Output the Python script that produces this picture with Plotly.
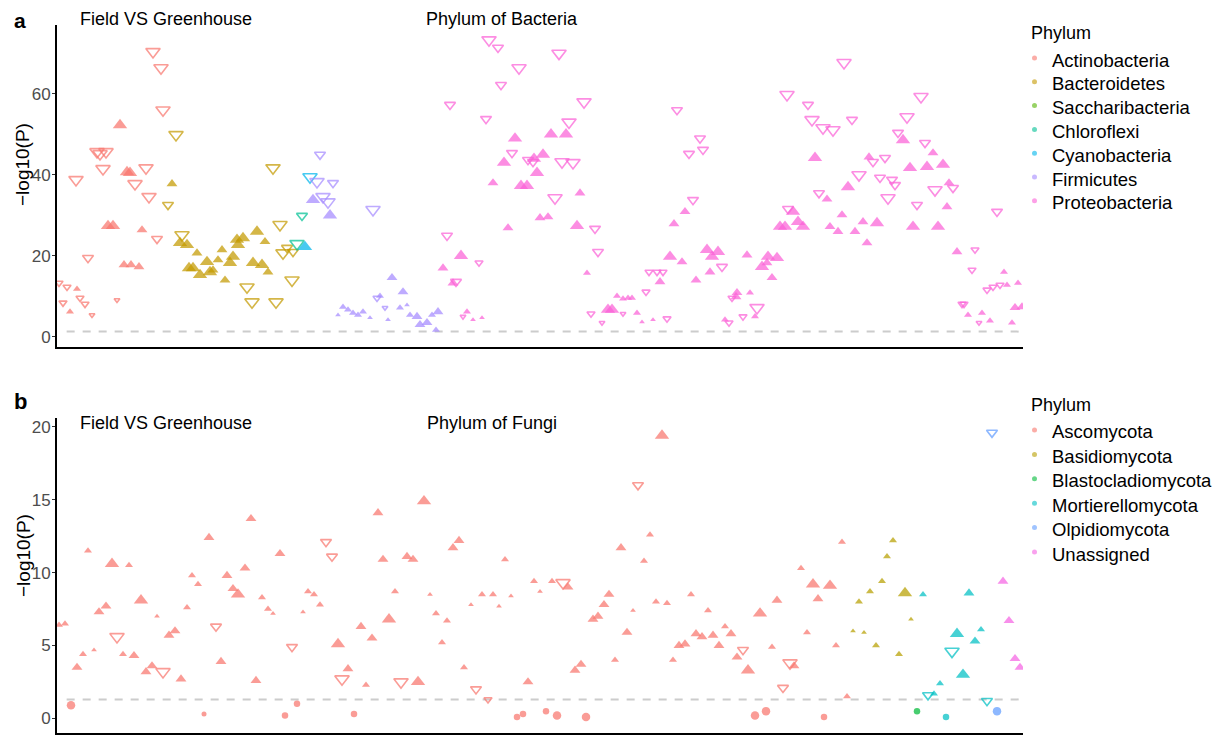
import plotly.graph_objects as go

# ---------------- Panel a : Bacteria (otu_pos, -log10P, abundance class) ----------------
a_phyla = ["Actinobacteria", "Bacteroidetes", "Saccharibacteria", "Chloroflexi",
           "Cyanobacteria", "Firmicutes", "Proteobacteria"]
a_colors = ["#F8766D", "#C49A00", "#53B400", "#00C094", "#00B6EB", "#A58AFF", "#FB61D7"]

act_up = [(77,11.8,2),(70,6.2,2),(108,27.4,4),(113,27.4,4),(120,52.3,4),(127,40.7,4),(130,40.5,4),
          (124,17.8,3),(131,17.8,3),(139,17.3,3),(142,26.4,3)]
act_dn = [(59,13.3,2),(67,12.3,2),(63,8.4,2),(80,9.6,2),(85,8.1,2),(92,5.4,1),(76,38.8,4),(88,19.5,3),
          (97,45.7,4),(100,45.2,4),(106,45.7,4),(103,41.5,4),(135,37.8,4),(146,41.7,4),(117,9.1,1),
          (149,34.6,4),(157,24.2,3),(153,70.4,4),(161,66.4,4),(163,56.0,4)]
bac_up = [(172,37.8,3),(180,23.2,4),(187,22.7,4),(197,20.7,3),(189,17.0,4),(193,17.0,4),(200,15.3,4),
          (207,18.5,4),(210,16.0,4),(213,16.5,3),(218,19.0,3),(222,21.5,3),(225,14.0,3),(230,18.3,4),
          (233,19.8,4),(237,24.0,4),(238,22.7,4),(243,24.4,4),(253,18.3,4),(257,26.0,4),(262,17.8,4),
          (265,23.5,3),(268,16.0,3)]
bac_dn = [(176,49.9,4),(168,32.6,3),(182,25.2,4),(247,12.3,4),(252,8.6,4),(273,41.7,4),(276,8.6,4),
          (280,27.7,4),(283,20.7,4),(287,22.0,3),(292,14.0,4),(293,21.0,3)]
chl_dn = [(302,29.9,3),(297,23.0,4)]
cya_up = [(305,22.2,4)]
cya_dn = [(310,39.5,4)]
fir_up = [(313,33.8,4),(330,30.0,4),(338,5.4,1),(343,7.4,2),(348,6.7,2),(353,5.9,2),(358,5.4,2),
          (363,6.2,2),(370,4.7,1),(380,10.1,2),(392,14.6,3),(388,4.2,1),(403,11.1,3),(400,7.2,2),
          (407,7.9,1),(410,5.4,2),(417,5.0,3),(420,3.0,3),(427,3.5,3),(432,5.4,2),(438,6.2,3),(436,1.7,2)]
fir_dn = [(320,45.0,3),(317,38.3,4),(333,38.0,3),(323,34.6,4),(328,33.3,4),(373,31.4,4),(377,9.6,2),
          (385,7.2,1)]
pro_up = [(467,6.2,2),(473,4.2,1),(482,4.7,1),(443,17.0,3),(461,20.0,4),(453,13.3,3),(515,49.0,4),
          (551,50.0,4),(566,50.0,4),(504,43.0,4),(534,44.0,4),(543,45.0,4),(537,40.5,4),(493,38.0,3),
          (521,37.3,4),(527,37.3,4),(580,35.5,3),(540,29.4,3),(548,29.6,3),(508,26.9,3),(577,27.4,4),
          (587,15.8,2),(608,6.7,4),(612,6.7,4),(617,10.1,2),(623,9.4,2),(628,9.6,2),(632,9.6,2),
          (637,5.9,2),(642,3.7,1),(653,4.2,1),(660,13.6,3),(670,19.8,4),(674,27.9,3),(682,18.5,3),
          (685,30.9,3),(696,14.0,3),(707,21.5,4),(712,19.8,4),(718,21.0,4),(710,16.0,3),(737,10.9,3),
          (736,9.9,3),(750,10.9,2),(725,4.2,2),(755,5.0,2),(747,20.2,3),(762,17.3,4),(768,19.8,4),
          (777,19.5,4),(772,14.6,3),(767,18.3,3),(780,27.2,4),(785,27.2,4),(793,30.9,4),(798,28.4,4),
          (803,27.2,4),(815,44.2,4),(827,34.0,3),(842,30.1,3),(830,27.2,3),(838,26.0,3),(848,37.0,4),
          (855,26.0,3),(867,23.2,3),(863,28.4,3),(877,28.1,4),(869,44.4,3),(903,48.6,4),(910,41.7,4),
          (927,42.0,4),(933,45.4,3),(943,42.5,4),(949,38.0,3),(947,32.1,3),(913,27.2,4),(938,27.2,4),
          (957,21.0,3),(1004,16.0,2),(1007,12.8,2),(1018,13.3,2),(1015,7.2,3),(1022,7.4,3),(968,5.4,2),
          (982,5.9,2),(990,4.0,2),(1012,3.5,2)]
pro_dn = [(463,5.0,1),(447,25.0,3),(456,13.6,3),(479,18.3,2),(450,57.3,3),(486,53.8,3),(489,73.3,4),
          (498,71.4,3),(519,66.4,4),(501,62.2,3),(559,70.0,4),(584,58.0,4),(569,53.0,4),(512,45.4,3),
          (528,43.7,3),(533,43.2,3),(562,43.2,4),(573,43.0,4),(555,34.3,4),(595,26.7,3),(598,21.0,3),
          (591,5.7,2),(602,3.5,1),(623,5.7,1),(646,11.1,2),(649,16.0,2),(657,16.0,2),(663,16.0,2),
          (667,4.5,2),(677,56.0,3),(693,33.8,3),(700,49.0,3),(703,46.2,3),(689,45.2,3),(722,17.3,3),
          (732,9.6,2),(729,3.5,2),(743,5.0,2),(757,7.2,4),(788,31.6,3),(787,59.8,4),(808,57.3,3),
          (812,53.6,4),(823,51.6,4),(833,51.1,4),(852,53.6,3),(844,67.7,4),(819,35.5,3),(859,40.0,4),
          (873,43.2,3),(885,44.2,3),(880,39.3,3),(892,38.8,3),(895,37.5,3),(888,34.3,4),(898,50.4,3),
          (907,54.3,4),(921,59.3,4),(925,47.9,3),(935,36.3,4),(953,36.8,3),(917,32.6,3),(975,21.5,2),
          (972,16.5,2),(997,30.9,3),(987,11.6,2),(993,12.3,2),(1000,12.8,2),(962,8.1,2),(964,8.1,2),
          (979,3.5,1)]

a_sets = [  # (phylum index, kind, points)
    (0, "up", act_up), (0, "down", act_dn),
    (1, "up", bac_up), (1, "down", bac_dn),
    (3, "down", chl_dn),
    (4, "up", cya_up), (4, "down", cya_dn),
    (5, "up", fir_up), (5, "down", fir_dn),
    (6, "up", pro_up), (6, "down", pro_dn),
]

# ---------------- Panel b : Fungi ----------------
b_phyla = ["Ascomycota", "Basidiomycota", "Blastocladiomycota", "Mortierellomycota",
           "Olpidiomycota", "Unassigned"]
b_colors = ["#F8766D", "#B79F00", "#00BA38", "#00BFC4", "#619CFF", "#F564E3"]

asc_up = [(59,6.4,2),(65,6.5,2),(88,11.5,2),(77,3.5,3),(83,4.4,2),(94,4.7,1),(99,7.3,3),(106,7.7,3),
          (112,10.6,4),(129,10.5,2),(123,4.4,2),(134,4.3,3),(141,8.1,4),(146,3.2,3),(152,3.6,3),
          (157,7.0,1),(169,5.7,3),(175,6.0,3),(181,2.7,3),(187,7.6,2),(192,9.8,2),(198,9.2,2),
          (209,12.4,3),(221,3.9,3),(227,9.8,3),(233,8.9,3),(238,8.5,4),(245,10.3,3),(251,13.7,3),
          (256,2.6,3),(262,8.3,2),(268,7.5,2),(273,7.2,1),(280,11.3,3),(303,7.3,1),(308,8.7,2),
          (314,8.5,2),(320,7.8,2),(338,5.1,4),(348,3.4,3),(361,6.3,3),(372,5.5,3),(366,2.3,2),
          (378,14.1,3),(383,10.9,3),(389,6.8,4),(395,8.7,2),(407,11.1,3),(413,10.9,3),(418,2.5,4),
          (424,14.9,4),(430,8.5,1),(436,7.2,2),(447,6.7,2),(442,5.2,2),(453,11.7,3),(459,12.2,3),
          (464,3.5,2),(471,7.8,1),(482,8.5,2),(493,8.5,2),(499,7.7,1),(505,10.9,2),(511,8.4,1),
          (528,2.5,3),(534,9.4,2),(540,8.7,1),(552,9.4,2),(568,9.0,3),(575,3.3,3),(581,3.7,3),
          (593,6.8,3),(598,7.0,3),(604,7.8,3),(609,8.5,3),(615,4.0,2),(621,11.7,3),(627,5.9,3),
          (633,7.4,1),(644,10.8,2),(650,12.6,2),(656,8.0,2),(667,7.9,2),(662,19.4,4),(673,4.0,2),
          (679,5.0,3),(685,5.1,3),(691,8.5,2),(696,5.8,3),(702,5.6,3),(713,5.7,3),(708,7.4,2),
          (719,5.0,3),(725,6.3,2),(731,5.8,3),(737,4.2,3),(748,3.3,4),(760,7.2,4),(772,4.9,2),
          (777,8.1,3),(794,3.6,3),(801,10.3,2),(807,5.9,2),(813,9.2,4),(830,9.1,4),(818,8.2,3),
          (836,5.0,2),(842,12.1,2),(847,1.5,2)]
asc_dn = [(117,5.6,4),(163,3.2,4),(216,6.3,3),(292,4.9,3),(326,12.1,3),(332,11.1,3),(342,2.7,4),
          (401,2.5,4),(476,2.0,3),(488,1.3,2),(563,9.3,4),(638,16.0,3),(743,4.7,3),(783,2.1,3),
          (790,3.8,4)]
asc_ns = [(71,0.9,3),(204,0.3,1),(285,0.2,2),(297,1.0,2),(354,0.3,2),(517,0.1,2),(523,0.3,2),
          (546,0.5,2),(557,0.2,3),(586,0.1,3),(755,0.2,3),(766,0.5,3),(824,0.1,2)]
bas_up = [(853,6.0,1),(859,8.0,2),(864,5.9,1),(870,8.7,2),(876,5.0,2),(882,9.4,2),(887,11.1,2),
          (893,12.2,2),(899,4.4,2),(905,8.6,4),(911,6.8,1)]
bla_ns = [(917,0.5,2)]
mor_up = [(923,8.5,2),(934,1.7,2),(940,2.4,2),(957,5.8,4),(963,3.0,4),(969,8.6,3),(975,5.3,3),
          (981,6.1,2)]
mor_dn = [(928,1.6,3),(952,4.6,4),(987,1.2,3)]
mor_ns = [(946,0.1,2)]
olp_dn = [(992,19.6,3)]
olp_ns = [(997,0.5,3)]
una_up = [(1003,9.4,3),(1009,6.7,3),(1015,4.1,3),(1020,3.5,3)]

b_sets = [
    (0, "up", asc_up), (0, "down", asc_dn), (0, "ns", asc_ns),
    (1, "up", bas_up),
    (2, "ns", bla_ns),
    (3, "up", mor_up), (3, "down", mor_dn), (3, "ns", mor_ns),
    (4, "down", olp_dn), (4, "ns", olp_ns),
    (5, "up", una_up),
]

threshold = 1.301  # -log10(0.05)

# ---------------- figure ----------------
# the page body has an 8px margin, so the figure is drawn 8px smaller and positions are
# expressed in window pixels then shifted
OFF = 8
W, H = 1223 - OFF, 742 - OFF
L, R, T, B = 57 - OFF, 1223 - 1023, 25 - OFF, 742 - 733
PH = H - T - B
PW = W - L - R

def py(ypx):  # window pixel -> paper fraction
    return (H - B - (ypx - OFF)) / PH

def px(xpx):
    return (xpx - OFF - L) / PW

TRI = {1: 5.0, 2: 7.0, 3: 9.5, 4: 12.5}
CIR = {1: 5.0, 2: 6.5, 3: 8.5, 4: 10.0}
SYM = {"up": "triangle-up", "down": "triangle-down-open", "ns": "circle"}

fig = go.Figure()

def add_sets(sets, colors, xa, ya):
    for ci, kind, pts in sets:
        xs = [p[0] for p in pts]
        ys = [p[1] for p in pts]
        if kind == "ns":
            sz = [CIR[p[2]] for p in pts]
        else:
            sz = [TRI[p[2]] for p in pts]
        fig.add_trace(go.Scatter(
            x=xs, y=ys, mode="markers", xaxis=xa, yaxis=ya, showlegend=False,
            hoverinfo="skip",
            marker=dict(symbol=SYM[kind], size=sz, color=colors[ci], opacity=0.72,
                        line=dict(width=1.6 if kind == "down" else 0, color=colors[ci]))))

add_sets(a_sets, a_colors, "x", "y")
add_sets(b_sets, b_colors, "x2", "y2")

FONT = "Liberation Sans, Arial, sans-serif"
xcommon = dict(range=[57, 1023], showgrid=False, zeroline=False, showticklabels=False,
               ticks="", showline=True, linecolor="black", linewidth=2, automargin=False)
ycommon = dict(showgrid=False, zeroline=False, showline=True, linecolor="black", linewidth=2,
               ticks="outside", ticklen=3, tickcolor="#333333", tickwidth=1, automargin=False,
               ticklabelstandoff=-2,
               tickfont=dict(family=FONT, size=17, color="#4D4D4D"))

domA = [py(347), 1.0]
domB = [0.0, py(418)]

fig.update_layout(
    width=W, height=H, margin=dict(l=L, r=R, t=T, b=B, autoexpand=False),
    paper_bgcolor="white", plot_bgcolor="white", showlegend=False,
    font=dict(family=FONT, color="black"),
    xaxis=dict(domain=[0, 1], anchor="y", **xcommon),
    yaxis=dict(domain=domA, anchor="x", range=[-2.5, 77], tickvals=[0, 20, 40, 60], **ycommon),
    xaxis2=dict(domain=[0, 1], anchor="y2", **xcommon),
    yaxis2=dict(domain=domB, anchor="x2", range=[-1.0, 20.6], tickvals=[0, 5, 10, 15, 20], **ycommon),
)

# threshold dashed lines
for xr, yr in (("x", "y"), ("x2", "y2")):
    fig.add_shape(type="line", xref=xr + " domain", yref=yr, x0=0.01, x1=1, y0=threshold, y1=threshold,
                  line=dict(color="#CCCCCC", width=2, dash="8px,8px"), layer="below")

def ann(text, xpx, ypx, size, bold=False, anchor="left", angle=0, color="black"):
    fig.add_annotation(text=("<b>%s</b>" % text) if bold else text, xref="paper", yref="paper",
                       x=px(xpx), y=py(ypx), xanchor=anchor, yanchor="middle", showarrow=False,
                       textangle=angle, font=dict(family=FONT, size=size, color=color))

# legends (title, colored dots, labels)
def legend(names, colors, title_y, first_y, step):
    ann("Phylum", 1029, title_y, 18)
    for i, (name, col) in enumerate(zip(names, colors)):
        yc = first_y + i * step
        fig.add_shape(type="circle", xref="paper", yref="paper",
                      x0=px(1032), x1=px(1037), y0=py(yc + 0.5), y1=py(yc - 4.5),
                      fillcolor=col, opacity=0.6, line=dict(width=0))
        ann(name, 1050, yc, 18.5)

legend(a_phyla, a_colors, 33, 60, 23.8)
legend(b_phyla, b_colors, 405, 432, 24.4)

ann("a", 12, 21, 21, bold=True)
ann("b", 12, 401, 22, bold=True)
ann("Field VS Greenhouse", 78, 19, 18)
ann("Phylum of Bacteria", 502, 19, 18, anchor="center")
ann("Field VS Greenhouse", 78, 423, 18)
ann("Phylum of Fungi", 492, 423, 18, anchor="center")
ann("\u2212log10(P)", 23, 165, 19, anchor="center", angle=-90)
ann("\u2212log10(P)", 23, 556, 19, anchor="center", angle=-90)

fig.write_html("out.html")
